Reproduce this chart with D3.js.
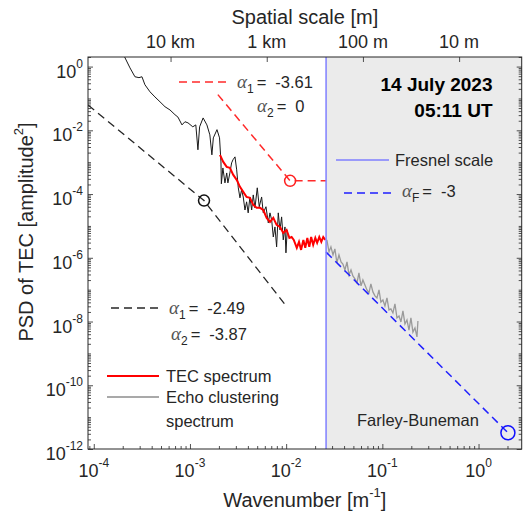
<!DOCTYPE html>
<html>
<head>
<meta charset="utf-8">
<script src="https://cdn.jsdelivr.net/npm/d3@7"></script>
<style>
  body { margin: 0; background: #fff; }
  svg text { font-family: "Liberation Sans", Arial, sans-serif; fill: #262626; }
</style>
</head>
<body>
<svg id="chart" width="524" height="514"></svg>
<script>
// echo clustering spectrum, low wavenumbers (black)
const echoK = [1.92e-4, 2.38e-4, 2.68e-4, 2.95e-4, 3.17e-4, 3.40e-4, 3.84e-4, 4.32e-4, 4.88e-4, 5.5e-4,
  6.2e-4, 6.98e-4, 7.5e-4, 8.26e-4, 8.87e-4, 9.53e-4, 1.07e-3, 1.15e-3, 1.21e-3, 1.26e-3,
  1.37e-3, 1.50e-3, 1.61e-3, 1.69e-3, 1.75e-3, 1.91e-3, 2.03e-3, 2.1e-3, 2.12e-3, 2.2e-3,
  2.31e-3, 2.41e-3, 2.48e-3, 2.6e-3, 2.71e-3, 2.8e-3, 2.94e-3, 3.06e-3, 3.18e-3, 3.31e-3,
  3.44e-3, 3.58e-3, 3.73e-3, 3.88e-3, 4.03e-3, 4.2e-3, 4.38e-3, 4.55e-3, 4.74e-3, 5.01e-3,
  5.25e-3, 5.56e-3, 5.78e-3, 6.17e-3, 6.52e-3, 6.79e-3, 7.07e-3, 7.35e-3, 7.65e-3, 7.96e-3,
  8.28e-3, 8.63e-3, 8.97e-3, 9.33e-3, 9.72e-3, 9.95e-3, 1.026e-2];
const echoPsd = [3.4, 0.91, 0.48, 0.45, 0.48, 0.27, 0.162, 0.112, 0.0785, 0.055,
  0.0436, 0.031, 0.026, 0.0148, 0.0186, 0.0172, 0.0129, 0.0148, 2.45e-3, 0.0129,
  0.0245, 0.0148, 7.2e-3, 1.7e-3, 5.8e-3, 0.0105, 5.8e-3, 1.02e-3, 2.1e-4, 6.6e-4,
  2.24e-4, 4.6e-4, 2.24e-4, 4.6e-4, 9.5e-4, 1.19e-3, 1.47e-3, 5.75e-4, 1.57e-4, 7.6e-5,
  1.35e-4, 8.1e-5, 3.16e-5, 5.7e-5, 2.57e-5, 8.1e-5, 3.16e-5, 9.4e-5, 3.7e-5, 1.57e-4,
  4e-5, 8.1e-5, 2.57e-5, 4e-5, 1.25e-5, 2.57e-5, 1.55e-5, 4.5e-6, 9.3e-6, 2.2e-6,
  2.57e-5, 7.5e-6, 1.92e-5, 3.65e-6, 9.3e-6, 1.43e-6, 7.5e-6];

// echo clustering spectrum beyond the Fresnel scale (gray)
const echoHiK = [2.65e-2, 2.79e-2, 2.92e-2, 3.07e-2, 3.21e-2, 3.37e-2, 3.54e-2, 3.72e-2, 3.89e-2, 4.08e-2,
  4.29e-2, 4.5e-2, 4.72e-2, 4.94e-2, 5.19e-2, 5.45e-2, 5.71e-2, 6.0e-2, 6.28e-2, 6.59e-2,
  6.92e-2, 7.26e-2, 7.6e-2, 7.98e-2, 8.38e-2, 8.79e-2, 9.23e-2, 9.66e-2, 0.1014, 0.1064,
  0.1117, 0.1172, 0.1227, 0.1288, 0.1352, 0.1419, 0.149, 0.156, 0.1637, 0.1718,
  0.1803, 0.1892, 0.1982, 0.208, 0.2183, 0.229, 0.2344];
const echoHiPsd = [3.65e-6, 1.53e-6, 2.2e-6, 1.23e-6, 1.9e-6, 6.9e-7, 1.23e-6, 7.4e-7, 6.4e-7, 4.17e-7,
  7.4e-7, 2.9e-7, 4.17e-7, 2.7e-7, 2.18e-7, 1.63e-7, 3.36e-7, 1.31e-7, 2.02e-7, 1.41e-7,
  9.8e-8, 7.9e-8, 1.52e-7, 8.5e-8, 6.4e-8, 5.5e-8, 9.8e-8, 4.1e-8, 4.76e-8, 3.09e-8,
  5.5e-8, 2.31e-8, 2.49e-8, 1.86e-8, 3.57e-8, 1.3e-8, 1.5e-8, 9.7e-9, 2.15e-8, 8.4e-9,
  1.12e-8, 5.4e-9, 1.3e-8, 4.7e-9, 6.3e-9, 3.28e-9, 1.04e-8];

// TEC spectrum (red)
const tecK = [2.05e-3, 2.22e-3, 2.41e-3, 2.6e-3, 2.82e-3, 3.06e-3, 3.31e-3, 3.58e-3, 3.88e-3, 4.2e-3,
  4.55e-3, 4.93e-3, 5.35e-3, 5.78e-3, 6.27e-3, 6.79e-3, 7.35e-3, 7.96e-3, 8.63e-3, 9.33e-3,
  1.01e-2, 1.08e-2, 1.14e-2, 1.2e-2, 1.29e-2, 1.36e-2, 1.43e-2, 1.51e-2, 1.58e-2, 1.66e-2,
  1.74e-2, 1.82e-2, 1.91e-2, 2.01e-2, 2.1e-2, 2.21e-2, 2.32e-2, 2.43e-2, 2.55e-2];
const tecPsd = [1.7e-3, 1.02e-3, 7.1e-4, 6.65e-4, 4.0e-4, 2.8e-4, 1.68e-4, 1.17e-4, 8.1e-5, 7.6e-5,
  4.6e-5, 3.7e-5, 3.7e-5, 3.16e-5, 1.79e-5, 1.34e-5, 1.79e-5, 1.08e-5, 9.3e-6, 6.05e-6,
  7.5e-6, 4.2e-6, 4.5e-6, 3.65e-6, 2.05e-6, 3.16e-6, 1.77e-6, 3.65e-6, 2.05e-6, 4.2e-6,
  2.2e-6, 4.5e-6, 2.54e-6, 4.2e-6, 2.94e-6, 4.5e-6, 3.16e-6, 4.5e-6, 3.65e-6];

// fitted power laws: [start, break, end]
const tecFitK = [1.95e-3, 0.011, 0.026];
const tecFitPsd = [0.132, 2.6e-4, 2.6e-4];
const echoFitK = [8.71e-5, 1.40e-3, 9.72e-3];
const echoFitPsd = [0.0625, 6.25e-5, 3.44e-8];
const fresnelFitK = [0.026, 2.02];
const fresnelFitPsd = [1.51e-6, 3.24e-12];

const fresnelK = 0.026;

// top axis: spatial scale, k = 2*pi / lambda
const scaleLambda = [1e4, 1e3, 100, 10];
const scaleLabels = ["10 km", "1 km", "100 m", "10 m"];

const xMajor = [1e-4, 1e-3, 1e-2, 1e-1, 1];
const yMajor = [1e0, 1e-2, 1e-4, 1e-6, 1e-8, 1e-10, 1e-12];

const W = 524, H = 514;
const margin = { top: 57, right: 2.3, bottom: 65, left: 88 };

const svg = d3.select("#chart");

const x = d3.scaleLog().domain([8.71e-5, 2.81]).range([margin.left, W - margin.right]);
const y = d3.scaleLog().domain([1e-12, 2]).range([H - margin.bottom, margin.top]);

const x0 = margin.left, x1 = W - margin.right, y0 = margin.top, y1 = H - margin.bottom;

svg.append("defs").append("clipPath").attr("id", "plot")
  .append("rect").attr("x", x0).attr("y", y0).attr("width", x1 - x0).attr("height", y1 - y0);

// shaded region beyond Fresnel scale
svg.append("rect")
  .attr("x", x(fresnelK)).attr("y", y0)
  .attr("width", x1 - x(fresnelK)).attr("height", y1 - y0)
  .attr("fill", "#ebebeb");

const plot = svg.append("g").attr("clip-path", "url(#plot)");
const line = d3.line().x(d => x(d[0])).y(d => y(d[1]));

plot.append("path").datum(d3.zip(echoHiK, echoHiPsd))
  .attr("d", line).attr("fill", "none").attr("stroke", "#9a9a9a").attr("stroke-width", 1.3);

plot.append("path").datum(d3.zip(echoK, echoPsd))
  .attr("d", line).attr("fill", "none").attr("stroke", "#1a1a1a").attr("stroke-width", 1);

plot.append("path").datum(d3.zip(tecK, tecPsd))
  .attr("d", line).attr("fill", "none").attr("stroke", "#ff0000").attr("stroke-width", 2);

// fits
plot.append("path").datum(d3.zip(tecFitK, tecFitPsd))
  .attr("d", line).attr("fill", "none").attr("stroke", "#ff2a2a").attr("stroke-width", 1.5)
  .attr("stroke-dasharray", "8,5");
plot.append("path").datum(d3.zip(echoFitK, echoFitPsd))
  .attr("d", line).attr("fill", "none").attr("stroke", "#262626").attr("stroke-width", 1.3)
  .attr("stroke-dasharray", "8,5");
plot.append("path").datum(d3.zip(fresnelFitK, fresnelFitPsd))
  .attr("d", line).attr("fill", "none").attr("stroke", "#1f1fff").attr("stroke-width", 1.5)
  .attr("stroke-dasharray", "8,5");

// Fresnel scale line
svg.append("line")
  .attr("x1", x(fresnelK)).attr("x2", x(fresnelK)).attr("y1", y0).attr("y2", y1)
  .attr("stroke", "#7f7fff").attr("stroke-width", 1.5);

// break points
svg.append("circle").attr("cx", x(tecFitK[1])).attr("cy", y(tecFitPsd[1])).attr("r", 5.5)
  .attr("fill", "none").attr("stroke", "#ff2020").attr("stroke-width", 1.5);
svg.append("circle").attr("cx", x(echoFitK[1])).attr("cy", y(echoFitPsd[1])).attr("r", 5.5)
  .attr("fill", "none").attr("stroke", "#111").attr("stroke-width", 1.5);
svg.append("circle").attr("cx", x(fresnelFitK[1])).attr("cy", y(fresnelFitPsd[1])).attr("r", 7)
  .attr("fill", "none").attr("stroke", "#1010ff").attr("stroke-width", 1.5);

// ticks
function minorTicks(lo, hi) {
  const out = [];
  for (let e = lo; e <= hi; e++) for (let m = 1; m <= 9; m++) out.push(m * Math.pow(10, e));
  return out;
}
const xMinor = minorTicks(-5, 0).filter(v => v >= x.domain()[0] && v <= x.domain()[1] && !xMajor.includes(v));
const yMinor = minorTicks(-12, 0).filter(v => v >= 1e-12 && v <= 2 && !yMajor.some(m => Math.abs(m - v) / m < 1e-9));

function tickAxis(axis, tx, ty) {
  const g = svg.append("g").attr("transform", `translate(${tx},${ty})`).call(axis);
  g.select(".domain").remove();
  g.selectAll("line").attr("stroke", "#262626").attr("stroke-width", 0.8);
  return g;
}
tickAxis(d3.axisBottom(x).tickValues(xMinor).tickSize(-3).tickFormat(""), 0, y1);
tickAxis(d3.axisBottom(x).tickValues(xMajor).tickSize(-5).tickFormat(""), 0, y1);
tickAxis(d3.axisLeft(y).tickValues(yMinor).tickSize(-3).tickFormat(""), x0, 0);
tickAxis(d3.axisLeft(y).tickValues(yMajor).tickSize(-5).tickFormat(""), x0, 0);
tickAxis(d3.axisRight(y).tickValues(yMinor).tickSize(-3).tickFormat(""), x1, 0);
tickAxis(d3.axisRight(y).tickValues(yMajor).tickSize(-5).tickFormat(""), x1, 0);
const kTop = scaleLambda.map(l => 2 * Math.PI / l);
tickAxis(d3.axisTop(x).tickValues(kTop).tickSize(-5).tickFormat(""), 0, y0);

// box
svg.append("rect").attr("x", x0).attr("y", y0).attr("width", x1 - x0).attr("height", y1 - y0)
  .attr("fill", "none").attr("stroke", "#262626").attr("stroke-width", 1);

// tick labels
xMajor.forEach(v => {
  const t = svg.append("text").attr("x", x(v)).attr("y", y1 + 28).attr("text-anchor", "middle");
  t.append("tspan").attr("font-size", 18).text("10");
  t.append("tspan").attr("font-size", 12).attr("dy", -10).text(Math.round(Math.log10(v)));
});
yMajor.forEach(v => {
  const t = svg.append("text").attr("x", x0 - 5).attr("y", y(v) + 11).attr("text-anchor", "end");
  t.append("tspan").attr("font-size", 18).text("10");
  t.append("tspan").attr("font-size", 12).attr("dy", -10).text(Math.round(Math.log10(v)));
});
kTop.forEach((k, i) => {
  svg.append("text").attr("x", x(k)).attr("y", 48).attr("text-anchor", "middle")
    .attr("font-size", 18).text(scaleLabels[i]);
});

// axis titles
svg.append("text").attr("x", (x0 + x1) / 2).attr("y", 24).attr("text-anchor", "middle")
  .attr("font-size", 20).text("Spatial scale [m]");
const xt = svg.append("text").attr("x", (x0 + x1) / 2).attr("y", 507).attr("text-anchor", "middle");
xt.append("tspan").attr("font-size", 20).text("Wavenumber [m");
xt.append("tspan").attr("font-size", 13).attr("dy", -10).text("-1");
xt.append("tspan").attr("font-size", 20).attr("dy", 10).text("]");
const yt = svg.append("text").attr("transform", "translate(33,232) rotate(-90)").attr("text-anchor", "middle");
yt.append("tspan").attr("font-size", 20).text("PSD of TEC [amplitude");
yt.append("tspan").attr("font-size", 13).attr("dy", -10).text("2");
yt.append("tspan").attr("font-size", 20).attr("dy", 10).text("]");

// alpha annotations
function alphaText(px, py, sub, val) {
  const t = svg.append("text").attr("x", px).attr("y", py);
  t.append("tspan").attr("font-family", "Liberation Serif, serif").attr("font-style", "italic")
    .attr("font-size", 19).style("fill", "#555").text("\u03b1");
  t.append("tspan").attr("font-size", 12).attr("dy", 5).text(sub);
  t.append("tspan").attr("font-size", 16.5).attr("dy", -5).attr("dx", 3).text("=");
  t.append("tspan").attr("font-size", 16.5).attr("dx", 9).text(val);
}
function legendLine(xa, xb, yy, color, width, dash) {
  svg.append("line").attr("x1", xa).attr("x2", xb).attr("y1", yy).attr("y2", yy)
    .attr("stroke", color).attr("stroke-width", width).attr("stroke-dasharray", dash || null);
}

legendLine(179, 230, 82, "#ff2a2a", 1.5, "8,5");
alphaText(237, 88, "1", "-3.61");
alphaText(257, 112, "2", "0");

legendLine(111, 162, 308, "#262626", 1.3, "8,5");
alphaText(169, 314, "1", "-2.49");
alphaText(171, 340, "2", "-3.87");

legendLine(336, 389, 160, "#7f7fff", 1.5);
svg.append("text").attr("x", 395).attr("y", 166).attr("font-size", 16.5).text("Fresnel scale");
legendLine(344, 395, 193, "#1f1fff", 1.5, "8,5");
alphaText(402, 197, "F", "-3");

legendLine(107, 159, 376, "#ff0000", 2);
svg.append("text").attr("x", 166).attr("y", 382).attr("font-size", 16.5).text("TEC spectrum");
legendLine(107, 159, 397, "#555", 1.2);
svg.append("text").attr("x", 166).attr("y", 403).attr("font-size", 16.5).text("Echo clustering");
svg.append("text").attr("x", 166).attr("y", 427).attr("font-size", 16.5).text("spectrum");

svg.append("text").attr("x", 357).attr("y", 426).attr("font-size", 16.5).text("Farley-Buneman");

svg.append("text").attr("x", 492.5).attr("y", 91).attr("text-anchor", "end")
  .attr("font-size", 19).attr("font-weight", "bold").style("fill", "#000").text("14 July 2023");
svg.append("text").attr("x", 492.5).attr("y", 116.5).attr("text-anchor", "end")
  .attr("font-size", 19).attr("font-weight", "bold").style("fill", "#000").text("05:11 UT");
</script>
</body>
</html>
